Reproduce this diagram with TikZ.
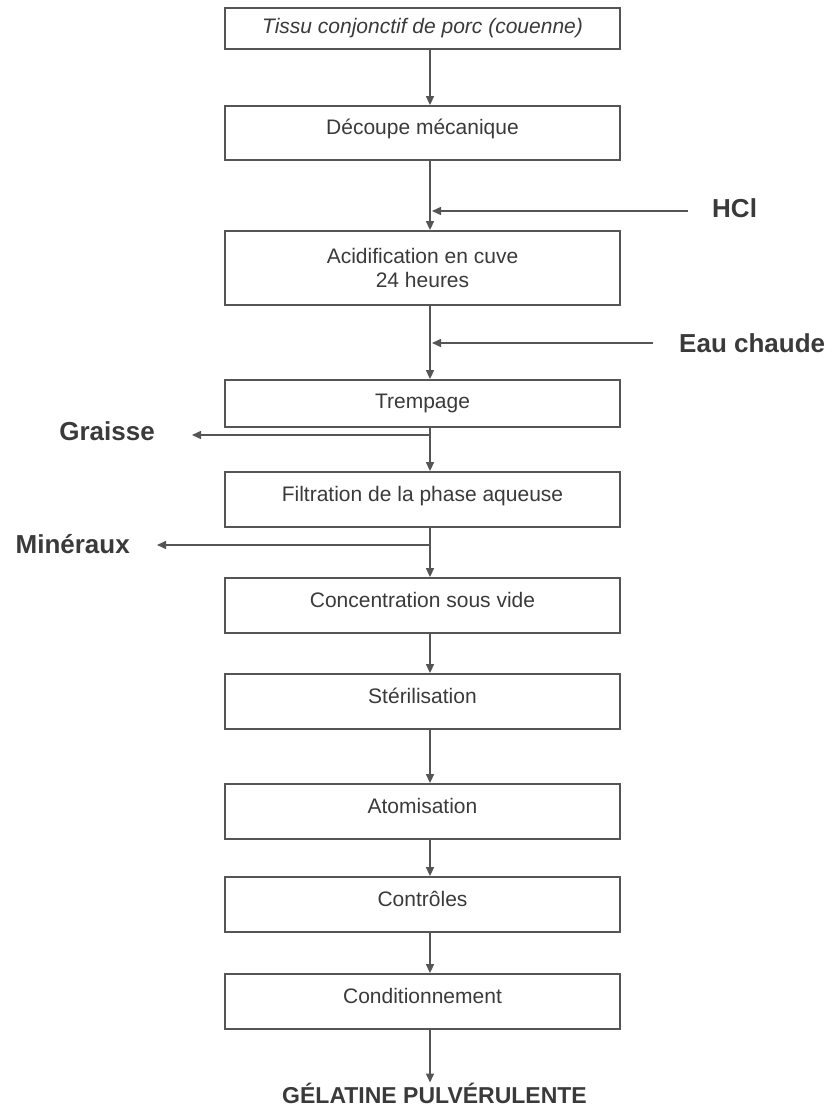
\documentclass[tikz,border=0pt]{standalone}
\usepackage{fontspec}
\setmainfont{Liberation Sans}
\usetikzlibrary{arrows.meta}
\definecolor{ink}{HTML}{3A3A3A}
\definecolor{linec}{HTML}{555555}
\begin{document}
\begin{tikzpicture}[x=1pt,y=-1pt,
  stepbox/.style={draw=linec, line width=1.8pt, minimum width=395pt, inner sep=0pt,
    text=ink, font=\fontsize{21}{24}\selectfont, text height=15pt, text depth=12pt},
  flow/.style={draw=linec, line width=1.5pt, -{Triangle[length=9pt,width=8pt]}},
  side/.style={font=\bfseries\fontsize{26}{30}\selectfont, text=ink, inner sep=0pt},
  endlabel/.style={font=\bfseries\fontsize{23}{27}\selectfont, text=ink, inner sep=0pt}]
\useasboundingbox (0,0) rectangle (832,1110);
\coordinate (spine) at (430,0);

\node[stepbox, minimum height=41pt, text height=15pt, text depth=4pt, font=\itshape\fontsize{21}{24}\selectfont] (b1) at (422.5,28.5) {Tissu conjonctif de porc (couenne)};
\node[stepbox, minimum height=54pt] (b2) at (422.5,133) {Découpe mécanique};
\node[stepbox, minimum height=74pt, align=center, text height=, text depth=] (b3) at (422.5,268) {Acidification en cuve\\24 heures};
\node[stepbox, minimum height=47pt, text depth=6pt] (b4) at (422.5,403.5) {Trempage};
\node[stepbox, minimum height=55pt] (b5) at (422.5,499.5) {Filtration de la phase aqueuse};
\node[stepbox, minimum height=55pt] (b6) at (422.5,605.5) {Concentration sous vide};
\node[stepbox, minimum height=55pt] (b7) at (422.5,701.5) {Stérilisation};
\node[stepbox, minimum height=55pt] (b8) at (422.5,811.5) {Atomisation};
\node[stepbox, minimum height=55pt] (b9) at (422.5,904.5) {Contrôles};
\node[stepbox, minimum height=55pt] (b10) at (422.5,1001.5) {Conditionnement};

\node[side, anchor=west] (hcl) at (712,208) {HCl};
\node[side, anchor=west] (eau) at (679,343) {Eau chaude};
\node[side, anchor=east] (graisse) at (155,431) {Graisse};
\node[side, anchor=east] (min) at (130,544) {Minéraux};
\node[endlabel] (final) at (434.5,1093) {GÉLATINE PULVÉRULENTE};

\coordinate (jh) at (432,211);
\coordinate (je) at (432,343);
\coordinate (jg) at (430,435);
\coordinate (jm) at (430,545);

\draw[flow] (b1.south -| spine) -- (b2.north -| spine);
\draw[flow] (b2.south -| spine) -- (b3.north -| spine);
\draw[flow] (b3.south -| spine) -- (b4.north -| spine);
\draw[flow] (b4.south -| spine) -- (b5.north -| spine);
\draw[flow] (b5.south -| spine) -- (b6.north -| spine);
\draw[flow] (b6.south -| spine) -- (b7.north -| spine);
\draw[flow] (b7.south -| spine) -- (b8.north -| spine);
\draw[flow] (b8.south -| spine) -- (b9.north -| spine);
\draw[flow] (b9.south -| spine) -- (b10.north -| spine);
\draw[flow] (b10.south -| spine) -- (final.north -| spine);

\draw[flow, shorten <=24pt] (hcl.west |- jh) -- (jh);
\draw[flow, shorten <=26pt] (eau.west |- je) -- (je);
\draw[flow, shorten >=37pt] (jg) -- (graisse.east |- jg);
\draw[flow, shorten >=27pt] (jm) -- (min.east |- jm);
\end{tikzpicture}
\end{document}
